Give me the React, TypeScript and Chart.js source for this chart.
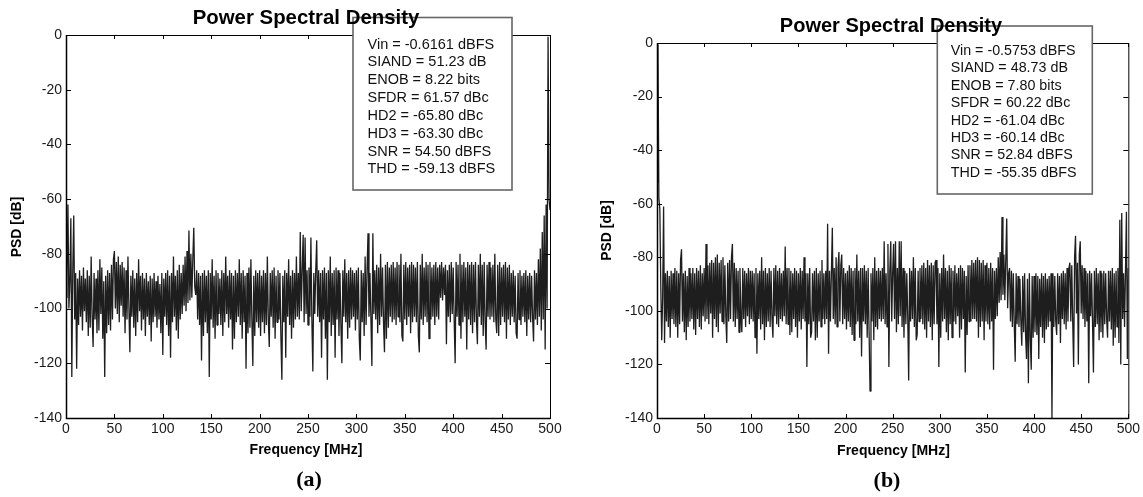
import React, { useEffect, useRef } from "react";
import { Chart, registerables } from "chart.js";

Chart.register(...registerables);

// FFT bin grid (1 MHz spacing, 0..500 MHz)
const FREQ_MHZ: number[] = Array.from({ length: 501 }, (_, i) => i);

const X_TICKS = [0, 50, 100, 150, 200, 250, 300, 350, 400, 450, 500];
const Y_TICKS = [-140, -120, -100, -80, -60, -40, -20, 0];

// Panel (a) PSD values in dB, one per 1 MHz bin
const PSD_A: number[] = [
  // 0
  -96, -88, -62, -100, -90, -67, -125, -86, -66, -104, -87, -122, -89, -106, -86, -103, -88, -108, -85, -101,
  // 20
  -89, -105, -86, -110, -88, -107, -81, -103, -114, -87, -104, -89, -109, -86, -108, -82, -102, -85, -111, -90,
  // 40
  -125, -88, -109, -86, -106, -87, -108, -84, -104, -82, -79, -100, -83, -102, -81, -105, -84, -99, -83, -103,
  // 60
  -85, -109, -86, -104, -81, -100, -116, -88, -103, -86, -107, -89, -110, -87, -105, -82, -101, -88, -108, -87,
  // 80
  -104, -89, -110, -87, -103, -90, -106, -88, -112, -89, -105, -87, -103, -90, -107, -88, -104, -91, -109, -87,
  // 100
  -117, -89, -103, -87, -106, -86, -110, -88, -118, -87, -105, -81, -103, -88, -108, -86, -111, -84, -104, -87,
  // 120
  -102, -84, -99, -81, -101, -79, -98, -71.5, -97, -80, -96, -82, -70.5, -92, -95, -86, -104, -87, -106, -88,
  // 140
  -119, -87, -110, -86, -105, -88, -109, -86, -125, -87, -104, -82, -107, -88, -111, -86, -106, -87, -102, -89,
  // 160
  -106, -86, -110, -87, -105, -81, -102, -88, -107, -86, -104, -87, -115, -88, -111, -86, -105, -87, -103, -82,
  // 180
  -106, -87, -111, -86, -105, -88, -122, -87, -109, -85, -107, -82, -104, -121, -88, -110, -86, -105, -87, -107,
  // 200
  -86, -110, -88, -105, -86, -109, -87, -106, -81, -104, -114, -87, -103, -86, -107, -85, -111, -88, -105, -86,
  // 220
  -104, -87, -110, -126, -88, -105, -86, -118, -87, -103, -82, -106, -88, -111, -86, -107, -87, -104, -81, -103,
  // 240
  -87, -104, -72, -101, -86, -73, -105, -74, -102, -86, -106, -85, -103, -74, -104, -123, -87, -102, -86, -75,
  // 260
  -103, -86, -105, -87, -118, -86, -104, -85, -111, -87, -126, -86, -105, -81, -110, -87, -106, -86, -118, -85,
  // 280
  -104, -86, -110, -87, -106, -120, -86, -103, -82, -105, -87, -111, -86, -107, -85, -104, -86, -103, -87, -108,
  // 300
  -86, -104, -85, -111, -119, -86, -105, -87, -110, -81, -106, -86, -72.5, -103, -87, -104, -121, -72.5, -102, -86,
  // 320
  -104, -84, -109, -85, -106, -80, -103, -85, -105, -116, -84, -111, -83, -107, -85, -103, -84, -105, -83, -104,
  // 340
  -85, -106, -83, -103, -84, -105, -80, -110, -112, -84, -104, -83, -106, -85, -103, -84, -109, -83, -105, -84,
  // 360
  -103, -85, -105, -83, -110, -116, -84, -104, -80, -106, -85, -103, -83, -105, -84, -111, -83, -104, -85, -103,
  // 380
  -84, -106, -83, -103, -85, -104, -84, -96, -83, -97, -85, -95, -84, -113, -86, -103, -84, -105, -83, -102,
  // 400
  -85, -104, -120, -83, -103, -84, -106, -80, -111, -84, -105, -83, -103, -85, -115, -83, -104, -84, -106, -83,
  // 420
  -109, -84, -105, -83, -104, -113, -84, -103, -80, -106, -84, -110, -83, -105, -115, -84, -103, -83, -104, -85,
  // 440
  -103, -84, -105, -80, -104, -109, -84, -110, -83, -106, -85, -103, -84, -105, -83, -111, -85, -104, -84, -106,
  // 460
  -87, -103, -86, -105, -88, -109, -111, -87, -104, -86, -106, -88, -103, -87, -105, -86, -110, -88, -104, -87,
  // 480
  -105, -88, -103, -112, -86, -104, -87, -106, -82, -103, -78, -108, -72, -104, -66, -115, -62, -100, -0.6, -60,
  // 500
  -64,
];

// Panel (b) PSD values in dB, one per 1 MHz bin
const PSD_B: number[] = [
  // 0
  -52, -0.6, -58, -62, -90, -111, -95, -61, -112, -86, -104, -85, -106, -87, -110, -85, -103, -86, -105, -84,
  // 20
  -106, -85, -110, -86, -105, -81, -77, -104, -86, -108, -85, -111, -87, -106, -84, -104, -86, -103, -84, -107,
  // 40
  -86, -109, -84, -103, -85, -106, -83, -107, -86, -102, -84, -104, -75, -103, -83, -105, -82, -101, -81, -110,
  // 60
  -82, -103, -80, -106, -79, -108, -82, -101, -81, -104, -80, -105, -83, -102, -112, -82, -104, -81, -103, -80,
  // 80
  -75, -104, -82, -106, -84, -103, -85, -108, -84, -102, -108, -84, -103, -85, -106, -86, -102, -84, -105, -85,
  // 100
  -103, -85, -104, -86, -110, -84, -116, -86, -103, -85, -107, -80, -105, -85, -111, -84, -106, -86, -104, -84,
  // 120
  -106, -85, -103, -110, -84, -102, -83, -105, -85, -106, -84, -103, -86, -104, -85, -102, -76, -105, -84, -105,
  // 140
  -84, -109, -85, -108, -86, -103, -84, -106, -85, -110, -86, -104, -84, -107, -85, -103, -80, -104, -86, -121,
  // 160
  -86, -105, -84, -110, -108, -86, -104, -85, -111, -84, -110, -86, -104, -85, -106, -81, -103, -86, -105, -85,
  // 180
  -103, -67.5, -116, -85, -104, -86, -69, -103, -84, -105, -80, -106, -84, -78, -104, -83, -79, -105, -84, -103,
  // 200
  -86, -107, -85, -104, -83, -106, -84, -109, -85, -111, -84, -105, -79, -104, -85, -110, -84, -117, -84, -104,
  // 220
  -83, -105, -85, -110, -84, -108, -130, -86, -104, -84, -111, -80, -106, -85, -107, -84, -103, -85, -104, -84,
  // 240
  -103, -74, -105, -86, -106, -75, -121, -85, -74, -104, -86, -75, -103, -74, -108, -84, -105, -74, -102, -74,
  // 260
  -106, -84, -110, -85, -105, -86, -102, -126, -84, -104, -85, -103, -80, -106, -84, -111, -109, -85, -104, -84,
  // 280
  -103, -83, -105, -82, -107, -84, -110, -81, -104, -83, -106, -82, -111, -83, -105, -82, -81, -105, -84, -121,
  // 300
  -86, -110, -84, -104, -79, -103, -84, -108, -85, -111, -83, -105, -84, -110, -85, -104, -83, -105, -86, -102,
  // 320
  -84, -110, -83, -107, -84, -103, -85, -123, -87, -109, -83, -104, -83, -104, -81, -103, -82, -103, -81, -104,
  // 340
  -80, -110, -81, -106, -82, -104, -81, -111, -83, -104, -82, -105, -84, -107, -82, -104, -84, -122, -85, -103,
  // 360
  -84, -102, -80, -97, -78, -96, -65, -94, -79, -96, -81, -65.5, -99, -86, -84, -104, -85, -106, -86, -105,
  // 380
  -119, -86, -105, -87, -106, -88, -104, -113, -87, -108, -86, -109, -118, -88, -127, -86, -110, -122, -87, -110,
  // 400
  -87, -108, -86, -109, -87, -118, -88, -106, -86, -110, -87, -112, -86, -107, -88, -106, -87, -104, -86, -140,
  // 420
  -86, -106, -87, -104, -109, -86, -105, -87, -112, -86, -103, -85, -105, -86, -107, -84, -104, -84, -82, -104,
  // 440
  -83, -104, -121, -80, -72, -101, -82, -120, -79, -74, -101, -83, -103, -84, -106, -85, -104, -86, -127, -85,
  // 460
  -102, -86, -104, -123, -85, -106, -84, -105, -86, -111, -85, -108, -86, -110, -85, -105, -86, -103, -110, -85,
  // 480
  -104, -85, -107, -84, -113, -86, -110, -85, -106, -84, -112, -66, -120, -63.5, -103, -86, -106, -85, -63, -118,
  // 500
  -84,
];

const METRICS_A = [
  "Vin = -0.6161 dBFS",
  "SIAND = 51.23 dB",
  "ENOB = 8.22 bits",
  "SFDR = 61.57 dBc",
  "HD2 = -65.80 dBc",
  "HD3 = -63.30 dBc",
  "SNR = 54.50 dBFS",
  "THD = -59.13 dBFS",
];

const METRICS_B = [
  "Vin = -0.5753 dBFS",
  "SIAND = 48.73 dB",
  "ENOB = 7.80 bits",
  "SFDR = 60.22 dBc",
  "HD2 = -61.04 dBc",
  "HD3 = -60.14 dBc",
  "SNR = 52.84 dBFS",
  "THD = -55.35 dBFS",
];

const TITLE = "Power Spectral Density";
const X_LABEL = "Frequency [MHz]";
const Y_LABEL = "PSD [dB]";

const SANS = '"Liberation Sans", Arial, Helvetica, sans-serif';
const SERIF = '"Liberation Serif", "Times New Roman", serif';

const CANVAS_H = 497;

type PanelCfg = {
  key: string;
  data: number[];
  metrics: string[];
  tag: string;
  canvasLeft: number;
  width: number;
  area: { left: number; top: number; right: number; bottom: number };
  title: { x: number; y: number; size: number };
  box: { x: number; y: number; w: number; h: number; tx: number; ty: number; lh: number; size: number };
  ylabel: { x: number; y: number };
  xlabel: { x: number; y: number };
  tagPos: { x: number; y: number };
};

const PANELS: PanelCfg[] = [
  {
    key: "a",
    data: PSD_A,
    metrics: METRICS_A,
    tag: "(a)",
    canvasLeft: 0,
    width: 571,
    area: { left: 66, top: 35, right: 550, bottom: 418 },
    title: { x: 306, y: 23.5, size: 20.4 },
    box: { x: 353, y: 17.5, w: 159, h: 172.5, tx: 367.5, ty: 48.5, lh: 17.85, size: 14.5 },
    ylabel: { x: 17.5, y: 227 },
    xlabel: { x: 306, y: 454 },
    tagPos: { x: 309, y: 486 },
  },
  {
    key: "b",
    data: PSD_B,
    metrics: METRICS_B,
    tag: "(b)",
    canvasLeft: 571,
    width: 572,
    area: { left: 86, top: 43, right: 559, bottom: 418 },
    title: { x: 320, y: 31.5, size: 20 },
    box: { x: 366.3, y: 26, w: 155, h: 168, tx: 379.7, ty: 55, lh: 17.4, size: 14.3 },
    ylabel: { x: 36, y: 230.5 },
    xlabel: { x: 322.5, y: 455 },
    tagPos: { x: 316, y: 487 },
  },
];

function makeDecor(cfg: PanelCfg) {
  return {
    id: "decor_" + cfg.key,
    afterDatasetsDraw(chart: any) {
      const { ctx, chartArea: a, scales } = chart;
      ctx.save();
      ctx.strokeStyle = "#000";
      ctx.lineWidth = 1;
      ctx.strokeRect(a.left + 0.5, a.top + 0.5, a.right - a.left, a.bottom - a.top);
      ctx.beginPath();
      for (const v of X_TICKS) {
        const px = Math.round(scales.x.getPixelForValue(v)) + 0.5;
        ctx.moveTo(px, a.bottom);
        ctx.lineTo(px, a.bottom - 4);
        ctx.moveTo(px, a.top);
        ctx.lineTo(px, a.top + 4);
      }
      for (const v of Y_TICKS) {
        const py = Math.round(scales.y.getPixelForValue(v)) + 0.5;
        ctx.moveTo(a.left, py);
        ctx.lineTo(a.left + 5, py);
        ctx.moveTo(a.right, py);
        ctx.lineTo(a.right - 5, py);
      }
      ctx.stroke();
      ctx.lineWidth = 1.5;
      ctx.beginPath();
      ctx.moveTo(a.left + 0.5, a.top);
      ctx.lineTo(a.left + 0.5, a.bottom + 0.5);
      ctx.lineTo(a.right + 0.5, a.bottom + 0.5);
      ctx.stroke();
      ctx.restore();
    },
    afterDraw(chart: any) {
      const { ctx } = chart;
      ctx.save();
      const b = cfg.box;
      ctx.fillStyle = "#fff";
      ctx.fillRect(b.x, b.y, b.w, b.h);
      ctx.strokeStyle = "#666";
      ctx.lineWidth = 1.6;
      ctx.strokeRect(b.x, b.y, b.w, b.h);
      ctx.fillStyle = "#111";
      ctx.font = `${b.size}px ${SANS}`;
      ctx.textAlign = "left";
      ctx.textBaseline = "alphabetic";
      cfg.metrics.forEach((t, i) => ctx.fillText(t, b.tx, b.ty + i * b.lh));
      ctx.fillStyle = "#000";
      ctx.font = `bold ${cfg.title.size}px ${SANS}`;
      ctx.textAlign = "center";
      ctx.fillText(TITLE, cfg.title.x, cfg.title.y);
      ctx.font = `bold 14px ${SANS}`;
      ctx.fillText(X_LABEL, cfg.xlabel.x, cfg.xlabel.y);
      ctx.save();
      ctx.translate(cfg.ylabel.x, cfg.ylabel.y);
      ctx.rotate(-Math.PI / 2);
      ctx.textBaseline = "middle";
      ctx.fillText(Y_LABEL, 0, 0);
      ctx.restore();
      ctx.font = `bold 22px ${SERIF}`;
      ctx.textAlign = "center";
      ctx.fillText(cfg.tag, cfg.tagPos.x, cfg.tagPos.y);
      ctx.restore();
    },
  };
}

function Panel({ cfg }: { cfg: PanelCfg }) {
  const ref = useRef<HTMLCanvasElement | null>(null);
  useEffect(() => {
    if (!ref.current) return;
    const a = cfg.area;
    const tickFont = { family: SANS, size: 14 };
    const yAxisWidth = a.left;
    const xAxisHeight = CANVAS_H - a.bottom;
    const chart = new Chart(ref.current, {
      type: "line",
      data: {
        labels: FREQ_MHZ,
        datasets: [
          {
            data: cfg.data,
            borderColor: "#1e1e1e",
            borderWidth: 1.3,
            borderJoinStyle: "bevel",
            pointRadius: 0,
            tension: 0,
            fill: false,
          },
        ],
      },
      options: {
        responsive: false,
        animation: false,
        devicePixelRatio: 1,
        events: [],
        layout: {
          padding: {
            left: 0,
            top: a.top,
            right: cfg.width - a.right,
            bottom: 0,
          },
        },
        plugins: {
          legend: { display: false },
          tooltip: { enabled: false },
          title: { display: false },
        },
        scales: {
          x: {
            type: "linear",
            min: 0,
            max: 500,
            afterBuildTicks: (s: any) => {
              s.ticks = X_TICKS.map((v) => ({ value: v }));
            },
            afterFit: (s: any) => {
              s.height = xAxisHeight;
            },
            grid: { display: false, drawTicks: false },
            border: { display: false },
            ticks: {
              font: tickFont,
              color: "#1a1a1a",
              padding: 3,
              maxRotation: 0,
              autoSkip: false,
            },
          },
          y: {
            type: "linear",
            min: -140,
            max: 0,
            afterBuildTicks: (s: any) => {
              s.ticks = Y_TICKS.map((v) => ({ value: v }));
            },
            afterFit: (s: any) => {
              s.width = yAxisWidth;
            },
            grid: { display: false, drawTicks: false },
            border: { display: false },
            ticks: {
              font: tickFont,
              color: "#1a1a1a",
              padding: 4,
              autoSkip: false,
            },
          },
        },
      },
      plugins: [makeDecor(cfg)],
    } as any);
    return () => chart.destroy();
  }, [cfg]);
  return (
    <canvas
      ref={ref}
      width={cfg.width}
      height={CANVAS_H}
      style={{
        position: "absolute",
        left: cfg.canvasLeft,
        top: 0,
        width: cfg.width,
        height: CANVAS_H,
      }}
    />
  );
}

export default function App() {
  return (
    <div
      style={{
        position: "absolute",
        left: 0,
        top: 0,
        width: 1143,
        height: CANVAS_H,
        background: "#fff",
        overflow: "hidden",
      }}
    >
      {PANELS.map((p) => (
        <Panel key={p.key} cfg={p} />
      ))}
    </div>
  );
}
